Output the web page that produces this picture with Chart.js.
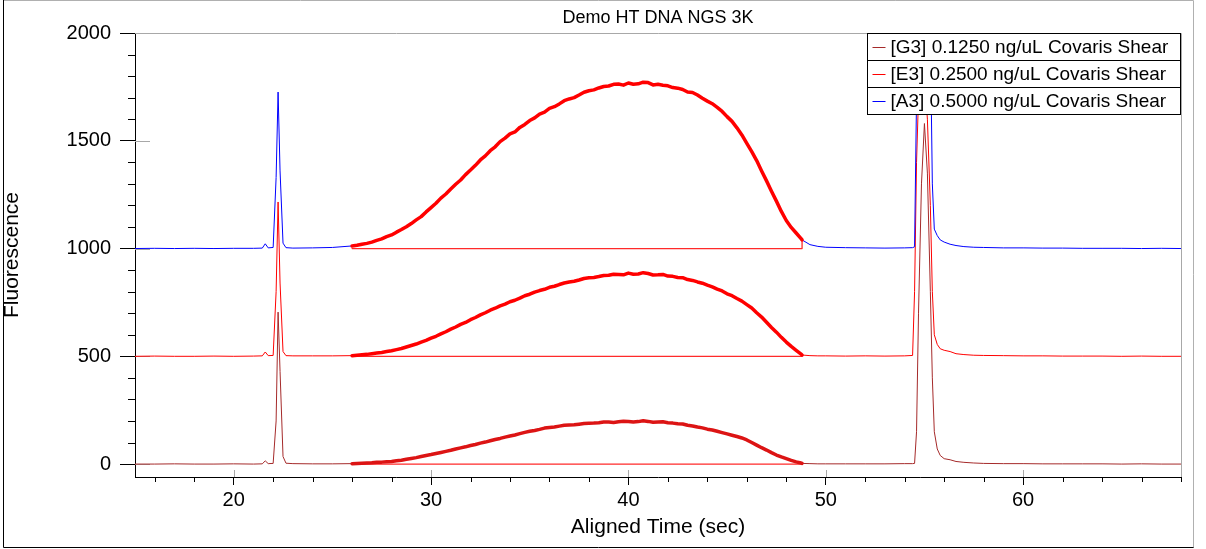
<!DOCTYPE html>
<html>
<head>
<meta charset="utf-8">
<title>Demo HT DNA NGS 3K</title>
<script src="https://cdn.jsdelivr.net/npm/chart.js@4.4.1/dist/chart.umd.min.js"></script>
<style>
  html, body { margin: 0; padding: 0; background: #fff; }
  #wrap { width: 1206px; height: 549px; }
</style>
</head>
<body>
<div id="wrap"><canvas id="trace" width="1206" height="549"></canvas></div>
<script>
// aligned time grid (sec), shared by all three samples
const timeSec = [
  15, 16, 17, 18, 19, 20, 21, 21.45, 21.6, 21.75, 22.0, 22.15, 22.25, 22.35, 22.5, 22.65, 23, 24, 25,
  26, 26.25, 26.5, 26.75, 27, 27.25, 27.5, 27.75,
  28, 28.25, 28.5, 28.75, 29, 29.25, 29.5, 29.75,
  30, 30.25, 30.5, 30.75, 31, 31.25, 31.5, 31.75,
  32, 32.25, 32.5, 32.75, 33, 33.25, 33.5, 33.75,
  34, 34.25, 34.5, 34.75, 35, 35.25, 35.5, 35.75,
  36, 36.25, 36.5, 36.75, 37, 37.25, 37.5, 37.75,
  38, 38.25, 38.5, 38.75, 39, 39.25, 39.5, 39.75,
  40, 40.25, 40.5, 40.75, 41, 41.25, 41.5, 41.75,
  42, 42.25, 42.5, 42.75, 43, 43.25, 43.5, 43.75,
  44, 44.25, 44.5, 44.75, 45, 45.25, 45.5, 45.75,
  46, 46.25, 46.5, 46.75, 47, 47.25, 47.5, 47.75,
  48, 48.25, 48.5, 48.75, 48.8,
  49.2, 49.6, 50, 51, 52, 53, 54, 54.4, 54.5, 54.6, 54.7, 54.85, 55.0, 55.15, 55.3, 55.4, 55.5, 55.65, 55.8,
  56, 56.3, 56.6, 57, 57.5, 58, 59, 60, 61, 62, 63, 64, 65, 66, 67, 68
]

const sampleLabels = [
  '[G3] 0.1250 ng/uL Covaris Shear',
  '[E3] 0.2500 ng/uL Covaris Shear',
  '[A3] 0.5000 ng/uL Covaris Shear'
]
// stacked display offsets (fluorescence units)
const sampleOffsets = [0, 500, 1000]

// fluorescence above baseline
const g3Signal = [
  0, 0, 1, 0, 0, 1, 0, 1, 15, 2, 3, 200, 705, 430, 35, 4, 2, 1, 1,
  2, 3, 4, 5, 6, 8, 9, 11,
  12, 15, 18, 22, 26, 30, 35, 40,
  44, 49, 54, 59, 64, 70, 75, 80,
  86, 91, 97, 102, 108, 114, 119, 125,
  130, 135, 141, 147, 152, 156, 161, 167,
  170, 172, 176, 180, 181, 182, 185, 188,
  189, 190, 192, 195, 195, 193, 196, 199,
  198, 195, 197, 201, 198, 194, 195, 196,
  192, 190, 187, 186, 180, 177, 172, 168,
  162, 158, 152, 146, 140, 134, 128, 121,
  112, 100, 88, 76, 65, 53, 42, 33,
  25, 17, 10, 5, 3,
  2, 1, 1, 1, 1, 1, 2, 2, 3, 150, 700, 1300, 1580, 1350, 800, 400, 150, 70, 40,
  25, 20, 12, 8, 5, 3, 2, 2, 1, 1, 1, 1, 0, 1, 0, 0
]
const e3Signal = [
  0, 1, 0, 0, 1, 0, 1, 2, 20, 3, 4, 300, 716, 340, 22, 3, 2, 2, 2,
  3, 5, 7, 9, 12, 15, 18, 22,
  26, 31, 36, 43, 50, 57, 66, 74,
  84, 93, 104, 114, 126, 136, 148, 157,
  170, 180, 192, 202, 214, 223, 234, 242,
  253, 260, 270, 281, 288, 298, 305, 311,
  320, 325, 333, 340, 345, 348, 354, 361,
  364, 366, 370, 375, 376, 381, 380, 378,
  386, 381, 382, 388, 384, 377, 378, 380,
  372, 371, 366, 365, 356, 352, 345, 339,
  330, 322, 312, 303, 290, 281, 268, 256,
  240, 224, 202, 182, 158, 134, 112, 88,
  66, 46, 28, 10, 6,
  3, 2, 2, 1, 2, 1, 2, 4, 300, 900, 1200, 1350, 1300, 1100, 700, 300, 100, 55, 35,
  28, 22, 12, 8, 5, 4, 3, 2, 2, 1, 1, 1, 0, 1, 0, 0
]
const a3Signal = [
  0, 1, 0, 1, 0, 1, 1, 2, 22, 3, 5, 330, 726, 360, 25, 4, 2, 3, 5,
  12, 15, 20, 24, 30, 38, 45, 55,
  63, 76, 88, 101, 116, 133, 148, 170,
  190, 210, 234, 253, 276, 298, 318, 343,
  364, 386, 411, 430, 454, 472, 496, 512,
  532, 541, 562, 576, 594, 606, 624, 633,
  650, 658, 671, 686, 694, 700, 712, 725,
  732, 736, 745, 752, 754, 762, 763, 758,
  768, 762, 764, 772, 770, 759, 762, 758,
  755, 747, 744, 738, 726, 724, 712, 697,
  684, 672, 655, 636, 612, 590, 560, 527,
  488, 450, 408, 360, 314, 266, 220, 172,
  130, 98, 72, 46, 40,
  18, 10, 6, 4, 3, 2, 3, 4, 8, 700, 1300, 1600, 1700, 1550, 1000, 300, 90, 60, 40,
  30, 20, 14, 9, 6, 5, 3, 3, 2, 2, 1, 1, 1, 0, 1, 0
]

// smear region (sec)
const smearRange = [26, 48.8]

const xMajorTicks = [20, 30, 40, 50, 60]
const yMajorTicks = [0, 500, 1000, 1500, 2000]
const xMinorStep = 2
const yMinorStep = 100

const FONT = "Arial, 'Liberation Sans', sans-serif"
const signals = [g3Signal, e3Signal, a3Signal]
const traceColors = ['#a52a2a', '#ff0000', '#0000ff']
const smearColors = ['#dc1414', '#ff0000', '#ff0000']

function toPoints(sig, off) {
  return timeSec.map((t, i) => ({ x: t, y: sig[i] + off }))
}

const datasets = []
signals.forEach((sig, k) => {
  datasets.push({
    label: sampleLabels[k],
    data: toPoints(sig, sampleOffsets[k]),
    borderColor: traceColors[k],
    borderWidth: 1,
    order: 10 - k
  })
})
signals.forEach((sig, k) => {
  const pts = toPoints(sig, sampleOffsets[k]).filter(p => p.x >= smearRange[0] && p.x <= smearRange[1])
  const last = pts[pts.length - 1]
  // baseline under the smear
  datasets.push({
    label: '',
    data: [
      { x: smearRange[0], y: sampleOffsets[k] },
      { x: smearRange[1], y: sampleOffsets[k] },
      { x: smearRange[1], y: last.y }
    ],
    borderColor: '#ff2a2a',
    borderWidth: 1.3,
    order: 5
  })
  // highlighted smear
  datasets.push({
    label: '',
    data: pts,
    borderColor: smearColors[k],
    borderWidth: 3.5,
    order: 1
  })
})

const decor = {
  id: 'decor',
  beforeDatasetsDraw(chart) {
    const { ctx, chartArea: a } = chart
    const xs = chart.scales.x, ys = chart.scales.y
    ctx.save()
    ctx.lineWidth = 1
    ctx.strokeStyle = '#a8a8a8'
    ctx.beginPath()
    const top = Math.round(a.top) + 0.5, right = Math.round(a.right) + 0.5
    ctx.moveTo(a.left, top); ctx.lineTo(right, top)
    ctx.moveTo(right, top); ctx.lineTo(right, a.bottom)
    yMajorTicks.forEach(v => {
      const y = Math.round(ys.getPixelForValue(v)) + 0.5
      ctx.moveTo(a.left, y); ctx.lineTo(a.left + 15, y)
    })
    xMajorTicks.forEach(v => {
      const x = Math.round(xs.getPixelForValue(v)) + 0.5
      ctx.moveTo(x, a.bottom - 7); ctx.lineTo(x, a.bottom)
    })
    ctx.stroke()

    // minor ticks
    ctx.strokeStyle = '#000'
    ctx.beginPath()
    for (let v = 0; v <= ys.max; v += yMinorStep) {
      if (yMajorTicks.includes(v)) continue
      const y = Math.round(ys.getPixelForValue(v)) + 0.5
      ctx.moveTo(a.left - 7, y); ctx.lineTo(a.left, y)
    }
    for (let v = Math.ceil(xs.min / xMinorStep) * xMinorStep; v <= xs.max; v += xMinorStep) {
      if (xMajorTicks.includes(v)) continue
      const x = Math.round(xs.getPixelForValue(v)) + 0.5
      ctx.moveTo(x, a.bottom); ctx.lineTo(x, a.bottom + 5)
    }
    ctx.stroke()
    ctx.restore()
  },
  afterDraw(chart) {
    const { ctx } = chart
    ctx.save()
    // legend box, one bordered row per sample
    const lx = 867.5, ly = 33.5, lw = 313, rh = 27
    ctx.fillStyle = '#fff'
    ctx.fillRect(lx, ly, lw, rh * sampleLabels.length)
    ctx.font = '19px ' + FONT
    ctx.textBaseline = 'middle'
    ctx.lineWidth = 1
    sampleLabels.forEach((lab, k) => {
      const y = ly + rh * k
      ctx.strokeStyle = '#000'
      ctx.strokeRect(lx, y, lw, rh)
      ctx.strokeStyle = traceColors[k]
      ctx.beginPath()
      ctx.moveTo(lx + 5, Math.round(y + rh / 2) + 0.5)
      ctx.lineTo(lx + 18, Math.round(y + rh / 2) + 0.5)
      ctx.stroke()
      ctx.fillStyle = '#000'
      ctx.fillText(lab, lx + 23, y + rh / 2 + 1)
    })
    // window frame
    ctx.strokeStyle = '#b0b0b0'
    ctx.beginPath()
    ctx.moveTo(3, 0.5); ctx.lineTo(1193.5, 0.5); ctx.lineTo(1193.5, 548)
    ctx.stroke()
    ctx.strokeStyle = '#000'
    ctx.beginPath()
    ctx.moveTo(3.5, 0); ctx.lineTo(3.5, 547.5); ctx.lineTo(1193.5, 547.5)
    ctx.stroke()
    ctx.restore()
  }
}

new Chart(document.getElementById('trace'), {
  type: 'line',
  data: { datasets: datasets },
  plugins: [decor],
  options: {
    responsive: false,
    animation: false,
    devicePixelRatio: 1,
    layout: { padding: { top: 3, right: 25, bottom: 0, left: 0 } },
    elements: {
      point: { radius: 0, hoverRadius: 0 },
      line: { tension: 0, borderCapStyle: 'round', borderJoinStyle: 'round' }
    },
    plugins: {
      legend: { display: false },
      tooltip: { enabled: false },
      title: {
        display: true,
        fullSize: false,
        text: 'Demo HT DNA NGS 3K',
        color: '#000',
        font: { family: FONT, size: 18, weight: 'normal' },
        padding: { top: 4, bottom: 4.4 }
      }
    },
    scales: {
      x: {
        type: 'linear',
        min: 15,
        max: 68,
        afterBuildTicks: s => { s.ticks = xMajorTicks.map(v => ({ value: v })) },
        afterFit: s => { s.height = 72 },
        ticks: {
          font: { family: FONT, size: 20 },
          color: '#000',
          padding: 3,
          maxRotation: 0,
          autoSkip: false,
          callback: v => v
        },
        grid: { drawOnChartArea: false, drawTicks: true, tickLength: 8, tickColor: '#000' },
        border: { display: true, color: '#000', width: 1 },
        title: {
          display: true,
          text: 'Aligned Time (sec)',
          color: '#000',
          font: { family: FONT, size: 21 },
          padding: { top: 0, bottom: 9 }
        }
      },
      y: {
        type: 'linear',
        min: -60,
        max: 2000,
        afterBuildTicks: s => { s.ticks = yMajorTicks.map(v => ({ value: v })) },
        afterFit: s => { s.width = 135 },
        ticks: {
          font: { family: FONT, size: 20 },
          color: '#000',
          padding: 9,
          autoSkip: false,
          callback: v => v
        },
        grid: { drawOnChartArea: false, drawTicks: true, tickLength: 15, tickColor: '#000' },
        border: { display: true, color: '#000', width: 1 },
        title: {
          display: true,
          text: 'Fluorescence',
          color: '#000',
          font: { family: FONT, size: 21 },
          padding: { top: 0, bottom: 0 }
        }
      }
    }
  }
})
</script>
</body>
</html>
